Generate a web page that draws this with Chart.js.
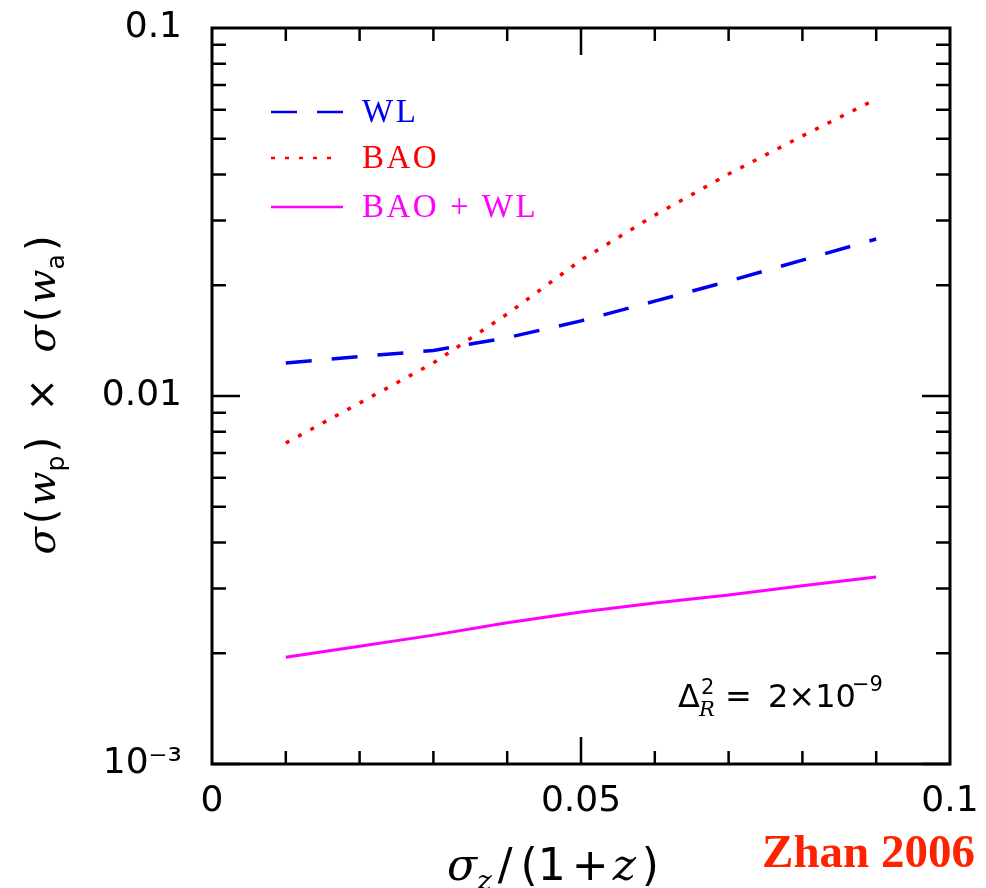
<!DOCTYPE html>
<html>
<head>
<meta charset="utf-8">
<script src="https://cdn.jsdelivr.net/npm/chart.js@4.4.0/dist/chart.umd.min.js"></script>
<style>
  html, body { margin: 0; padding: 0; background: #fff; }
</style>
</head>
<body>
<canvas id="chart" width="986" height="888"></canvas>
<script>
// photo-z error per (1+z)
const sigmaZ = [0.01, 0.02, 0.03, 0.04, 0.05, 0.06, 0.07, 0.08, 0.09];
// sigma(w_p) x sigma(w_a)
const wl = [0.0123, 0.0128, 0.0133, 0.0144, 0.0160, 0.0181, 0.0205, 0.0234, 0.0267];
const bao = [0.00745, 0.00957, 0.0123, 0.0167, 0.0234, 0.0310, 0.0401, 0.0509, 0.0641];
const baoWl = [0.00195, 0.00209, 0.00224, 0.00242, 0.00259, 0.00274, 0.00288, 0.00305, 0.00322];

const xTicks = [0, 0.05, 0.1];
const xTickLabels = ['0', '0.05', '0.1'];
const yTicks = [0.001, 0.01, 0.1];
const yTickLabels = ['10⁻³', '0.01', '0.1'];

const pts = ys => sigmaZ.map((x, i) => ({ x: x, y: ys[i] }));

// draw a run of text pieces (font, y offset) in one line
function drawRich(ctx, parts, x, y, align) {
  let total = 0;
  parts.forEach(p => { ctx.font = p.font; total += ctx.measureText(p.t).width + (p.gap || 0); });
  let cx = align === 'center' ? x - total / 2 : x;
  parts.forEach(p => {
    ctx.font = p.font;
    ctx.fillText(p.t, cx, y + (p.dy || 0));
    cx += ctx.measureText(p.t).width + (p.gap || 0);
  });
}

const framePlugin = {
  id: 'frame',
  afterDraw(chart) {
    const ctx = chart.ctx;
    const a = chart.chartArea;
    const xs = chart.scales.x, ys = chart.scales.y;
    ctx.save();
    ctx.strokeStyle = '#000';
    ctx.lineWidth = 3;
    ctx.strokeRect(a.left, a.top, a.right - a.left, a.bottom - a.top);

    // inward ticks
    ctx.lineWidth = 2.5;
    ctx.beginPath();
    for (let i = 1; i < 10; i++) {
      const v = i / 100;
      const px = xs.getPixelForValue(v);
      const len = i === 5 ? 27 : 13;
      ctx.moveTo(px, a.bottom); ctx.lineTo(px, a.bottom - len);
      ctx.moveTo(px, a.top); ctx.lineTo(px, a.top + len);
    }
    [0.001, 0.01].forEach(d => {
      for (let m = 1; m < 10; m++) {
        const py = ys.getPixelForValue(m * d);
        const len = m === 1 ? 28 : 14;
        ctx.moveTo(a.left, py); ctx.lineTo(a.left + len, py);
        ctx.moveTo(a.right, py); ctx.lineTo(a.right - len, py);
      }
    });
    ctx.stroke();

    // legend
    const rows = [112, 158, 207];
    chart.data.datasets.forEach((ds, i) => {
      ctx.strokeStyle = ds.borderColor;
      ctx.lineWidth = 2.5;
      ctx.setLineDash(ds.borderDash || []);
      ctx.beginPath();
      ctx.moveTo(271, rows[i]);
      ctx.lineTo(i === 1 ? 338 : 343, rows[i]);
      ctx.stroke();
      ctx.setLineDash([]);
      ctx.fillStyle = ds.borderColor;
      ctx.font = '33px "Liberation Serif"';
      ctx.letterSpacing = '2.5px';
      ctx.textBaseline = 'middle';
      ctx.textAlign = 'left';
      ctx.fillText(ds.label, 362, rows[i] + 1);
      ctx.letterSpacing = '0px';
    });

    // axis titles
    ctx.fillStyle = '#000';
    ctx.textBaseline = 'alphabetic';
    ctx.textAlign = 'left';
    const it = 'italic 40px "DejaVu Serif"';
    const rm = '40px "DejaVu Sans"';
    const sub = '25px "DejaVu Sans"';
    ctx.save();
    ctx.translate(55, 395);
    ctx.rotate(-Math.PI / 2);
    drawRich(ctx, [
      { t: 'σ', font: it, gap: 3 }, { t: '(', font: rm, gap: 3 }, { t: 'w', font: it },
      { t: 'p', font: sub, dy: 9, gap: 3 }, { t: ')  ×  ', font: rm },
      { t: 'σ', font: it, gap: 3 }, { t: '(', font: rm, gap: 3 }, { t: 'w', font: it },
      { t: 'a', font: sub, dy: 9, gap: 3 }, { t: ')', font: rm }
    ], 0, 0, 'center');
    ctx.restore();

    drawRich(ctx, [
      { t: 'σ', font: 'italic 44px "DejaVu Serif"' }, { t: 'z', font: 'italic 28px "DejaVu Serif"', dy: 10, gap: 6 },
      { t: '/', font: '44px "DejaVu Sans"', gap: 8 }, { t: '(1', font: '44px "DejaVu Sans"', gap: 6 },
      { t: '+', font: '44px "DejaVu Sans"', gap: 4 }, { t: 'z', font: 'italic 44px "DejaVu Serif"', gap: 6 },
      { t: ')', font: '44px "DejaVu Sans"' }
    ], 553, 880, 'center');

    // annotation
    const an = '32px "DejaVu Sans"';
    ctx.font = an;
    ctx.fillText('Δ', 678, 707);
    ctx.font = '21px "DejaVu Sans"';
    ctx.fillText('2', 701, 694);
    ctx.font = 'italic 21px "DejaVu Serif"';
    ctx.fillText('R', 699, 716);
    ctx.font = an;
    ctx.fillText('=', 725, 707);
    ctx.fillText('2×10', 768, 707);
    ctx.font = '21px "DejaVu Sans"';
    ctx.fillText('−9', 852, 691);

    ctx.fillStyle = '#ff2200';
    ctx.font = 'bold 47px "Liberation Serif"';
    ctx.textAlign = 'right';
    ctx.fillText('Zhan 2006', 975, 867);
    ctx.restore();
  }
};

new Chart(document.getElementById('chart'), {
  type: 'line',
  data: {
    datasets: [
      { label: 'WL', data: pts(wl), borderColor: '#0000f0', borderWidth: 3.5, borderDash: [26, 20], pointRadius: 0, fill: false, tension: 0 },
      { label: 'BAO', data: pts(bao), borderColor: '#ff0000', borderWidth: 3.5, borderDash: [4, 10], pointRadius: 0, fill: false, tension: 0 },
      { label: 'BAO + WL', data: pts(baoWl), borderColor: '#ff00ff', borderWidth: 3, pointRadius: 0, fill: false, tension: 0 }
    ]
  },
  options: {
    responsive: false,
    animation: false,
    layout: { padding: { top: 28, right: 36, left: 0, bottom: 0 } },
    plugins: { legend: { display: false }, tooltip: { enabled: false } },
    scales: {
      x: {
        type: 'linear',
        min: 0, max: 0.1,
        afterBuildTicks: s => { s.ticks = xTicks.map(v => ({ value: v })); },
        afterFit: s => { s.height = 124; s.paddingLeft = 0; s.paddingRight = 0; },
        grid: { display: false, drawTicks: false },
        border: { display: false },
        ticks: {
          padding: 16,
          color: '#000',
          font: { family: 'DejaVu Sans', size: 36 },
          maxRotation: 0,
          callback: (v, i) => xTickLabels[i]
        }
      },
      y: {
        type: 'logarithmic',
        min: 0.001, max: 0.1,
        afterBuildTicks: s => { s.ticks = yTicks.map(v => ({ value: v })); },
        afterFit: s => { s.width = 212; s.paddingTop = 0; s.paddingBottom = 0; },
        grid: { display: false, drawTicks: false },
        border: { display: false },
        ticks: {
          padding: 30,
          color: '#000',
          font: { family: 'DejaVu Sans', size: 36 },
          callback: (v, i) => yTickLabels[i]
        }
      }
    }
  },
  plugins: [framePlugin]
});
</script>
</body>
</html>
